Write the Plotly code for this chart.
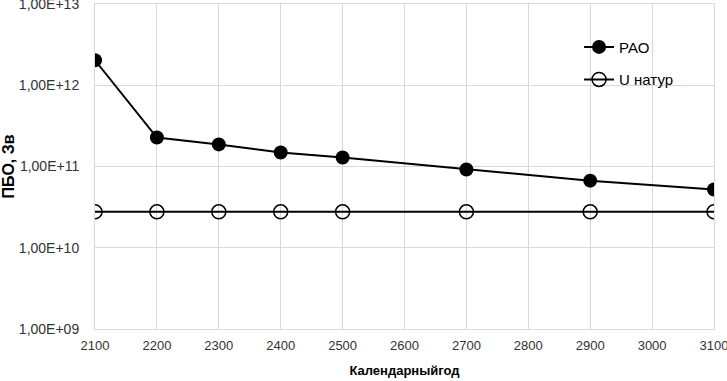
import plotly.graph_objects as go

years = [2100, 2200, 2300, 2400, 2500, 2700, 2900, 3100]
rao = [2.03e12, 2.27e11, 1.87e11, 1.49e11, 1.29e11, 9.2e10, 6.7e10, 5.2e10]
u_natur = [2.77e10] * 8
ytick_vals = [1e9, 1e10, 1e11, 1e12, 1e13]
ytick_text = ["1,00E+09", "1,00E+10", "1,00E+11", "1,00E+12", "1,00E+13"]
xtick_vals = list(range(2100, 3101, 100))

fig = go.Figure()
fig.add_trace(go.Scatter(
    x=years, y=rao, name="РАО", mode="lines+markers", legendgroup="a",
    line=dict(color="black", width=2),
    marker=dict(symbol="circle", size=14, color="black"),
))
fig.add_trace(go.Scatter(
    x=years, y=u_natur, name="U натур", mode="lines+markers", legendgroup="b",
    line=dict(color="black", width=2),
    marker=dict(symbol="circle-open", size=14, color="black", line=dict(width=1.5)),
))

fig.update_layout(
    width=727, height=381,
    margin=dict(l=95, r=13, t=4, b=52, autoexpand=False),
    paper_bgcolor="white", plot_bgcolor="white",
    font=dict(family="Liberation Sans, Arial", color="#333333", size=12),
    legend=dict(x=0.782, y=0.918, xanchor="left", yanchor="top",
                font=dict(size=15, color="black"), tracegroupgap=10,
                bgcolor="rgba(0,0,0,0)"),
    xaxis=dict(
        range=[2100, 3100], tickvals=xtick_vals, ticktext=[str(v) for v in xtick_vals],
        showgrid=True, gridcolor="#d9d9d9", gridwidth=1, automargin=False,
        showline=True, linecolor="#d9d9d9", mirror=True, zeroline=False,
        ticks="", tickfont=dict(size=13, color="#333333"),
        ticklabeloverflow="allow", ticklabelstandoff=4,
        title=dict(text="<b>Календарныйгод</b>", font=dict(size=13, color="black"), standoff=14),
    ),
    yaxis=dict(
        type="log", range=[9, 13], tickvals=ytick_vals, ticktext=ytick_text,
        showgrid=True, gridcolor="#d9d9d9", gridwidth=1, automargin=False,
        showline=True, linecolor="#d9d9d9", mirror=True, zeroline=False,
        ticks="", tickfont=dict(size=14, color="#333333"),
        ticklabeloverflow="allow", ticklabelstandoff=12,
        title=dict(text="<b>ПБО, Зв</b>", font=dict(size=16, color="black"), standoff=8),
    ),
)

fig.write_html("out.html", config={"displayModeBar": False})
with open("out.html", encoding="utf-8") as f:
    html = f.read()
html = html.replace("<body>", '<body style="margin:0;overflow:hidden">', 1)
with open("out.html", "w", encoding="utf-8") as f:
    f.write(html)
